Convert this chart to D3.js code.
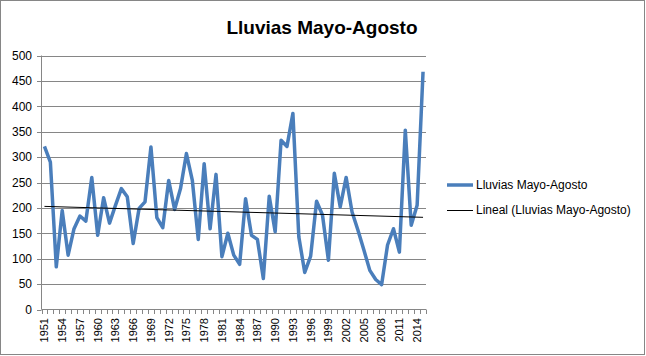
<!DOCTYPE html>
<html><head><meta charset="utf-8">
<script src="https://cdn.jsdelivr.net/npm/d3@7"></script>
<style>body{margin:0;background:#fff}svg{display:block}</style>
</head><body>
<svg id="c" width="646" height="356"></svg>
<script>
const title = "Lluvias Mayo-Agosto";
const seriesName = "Lluvias Mayo-Agosto";
const trendName = "Lineal (Lluvias Mayo-Agosto)";
const years = d3.range(1951, 2016);
const rainfall = [321,290,84,195,107,159,184,174,260,146,
  220,170,205,238,222,130,199,212,320,181,
  161,254,197,238,307,254,138,287,159,266,
  104,150,107,89,218,146,138,61,223,153,
  333,321,386,143,73,105,213,186,97,268,
  202,260,192,156,117,77,59,49,127,159,
  113,353,166,205,468];
const yTicks = [0,50,100,150,200,250,300,350,400,450,500];
const xLabelYears = years.filter((y,i)=>i%3===0);

const svg = d3.select("#c");
const font = "'Liberation Sans', Arial, sans-serif";
svg.append("rect").attr("x",0.5).attr("y",0.5).attr("width",644).attr("height",354)
  .attr("fill","#fff").attr("stroke","#868686");

const x = d3.scaleBand().domain(years).range([41.5, 426]).padding(0);
const cx = d => x(d) + x.bandwidth()/2;
const y = d3.scaleLinear().domain([0,500]).range([309.5, 55.5]);

// gridlines
svg.append("g").selectAll("line").data(yTicks.filter(v=>v>0)).join("line")
  .attr("x1",41.5).attr("x2",426).attr("y1",d=>Math.round(y(d))+0.5).attr("y2",d=>Math.round(y(d))+0.5)
  .attr("stroke","#868686").attr("stroke-width",1);

// y axis
const yAxis = svg.append("g");
yAxis.append("line").attr("x1",41.5).attr("x2",41.5).attr("y1",y(500)).attr("y2",y(0)).attr("stroke","#868686");
yAxis.selectAll("line.t").data(yTicks).join("line").attr("class","t")
  .attr("x1",37).attr("x2",41.5).attr("y1",d=>Math.round(y(d))+0.5).attr("y2",d=>Math.round(y(d))+0.5)
  .attr("stroke","#868686");
yAxis.selectAll("text").data(yTicks).join("text")
  .attr("x",32).attr("y",d=>y(d)).attr("dy","0.35em").attr("text-anchor","end")
  .attr("font-family",font).attr("font-size",12).attr("fill","#000").text(d=>d);

// x axis
const xAxis = svg.append("g");
xAxis.append("line").attr("x1",41.5).attr("x2",426).attr("y1",309.5).attr("y2",309.5).attr("stroke","#868686");
const bounds = years.map(d=>x(d)).concat([426]);
xAxis.selectAll("line.t").data(bounds).join("line").attr("class","t")
  .attr("x1",d=>Math.round(d)+0.5).attr("x2",d=>Math.round(d)+0.5).attr("y1",309.5).attr("y2",314)
  .attr("stroke","#868686");
xAxis.selectAll("text").data(xLabelYears).join("text")
  .attr("transform",d=>`translate(${cx(d)},318) rotate(-90)`)
  .attr("dy","0.35em").attr("text-anchor","end")
  .attr("font-family",font).attr("font-size",11).attr("fill","#000").text(d=>d);

// series line
const data = years.map((yr,i)=>({yr, v:rainfall[i]}));
svg.append("path").datum(data)
  .attr("d", d3.line().x(d=>cx(d.yr)).y(d=>y(d.v)))
  .attr("fill","none").attr("stroke","#4A7EBB").attr("stroke-width",3.5).attr("stroke-linejoin","round");

// linear trend (least squares)
const n = data.length;
const xs = data.map((d,i)=>i+1), vs = data.map(d=>d.v);
const mx = d3.mean(xs), mv = d3.mean(vs);
const slope = d3.sum(xs.map((xi,i)=>(xi-mx)*(vs[i]-mv))) / d3.sum(xs.map(xi=>(xi-mx)**2));
const icpt = mv - slope*mx;
const trend = [data[0], data[n-1]].map((d)=>({yr:d.yr, v: icpt + slope*(years.indexOf(d.yr)+1)}));
svg.append("path").datum(trend)
  .attr("d", d3.line().x(d=>cx(d.yr)).y(d=>y(d.v)))
  .attr("fill","none").attr("stroke","#000").attr("stroke-width",1);

// title
svg.append("text").attr("x",322).attr("y",34).attr("text-anchor","middle")
  .attr("font-family",font).attr("font-weight","bold").attr("font-size",19).attr("fill","#000").text(title);

// legend
const lg = svg.append("g");
lg.append("line").attr("x1",447).attr("x2",473).attr("y1",185).attr("y2",185).attr("stroke","#4A7EBB").attr("stroke-width",3.5);
lg.append("text").attr("x",476).attr("y",185).attr("dy","0.35em").attr("font-family",font).attr("font-size",12).attr("fill","#000").text(seriesName);
lg.append("line").attr("x1",447).attr("x2",473).attr("y1",210.5).attr("y2",210.5).attr("stroke","#000").attr("stroke-width",1);
lg.append("text").attr("x",476).attr("y",210).attr("dy","0.35em").attr("font-family",font).attr("font-size",12).attr("fill","#000").text(trendName);
</script>
</body></html>
